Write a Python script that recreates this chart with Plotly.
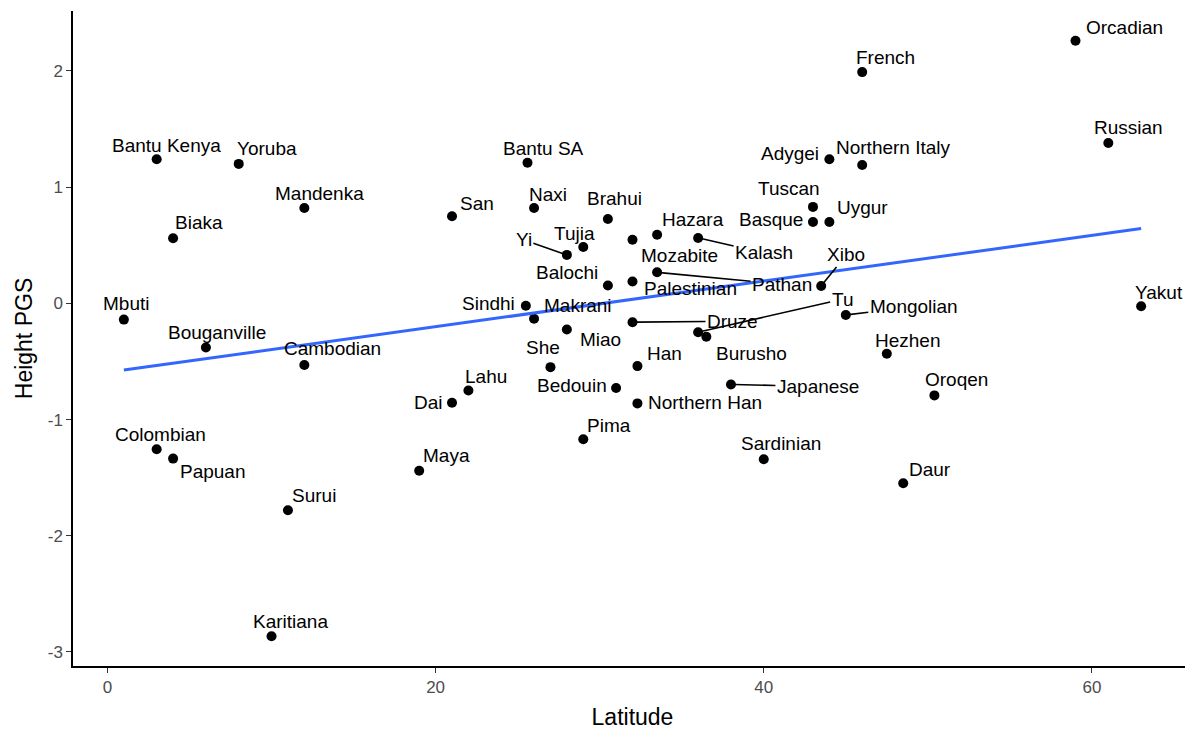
import numpy as np
import plotly.graph_objects as go

names = ["Orcadian", "French", "Russian", "Adygei", "Northern Italy", "Tuscan", "Basque", "Uygur",
         "Xibo", "Mongolian", "Yakut", "Bantu Kenya", "Yoruba", "Mandenka", "Biaka", "San", "Mbuti",
         "Bouganville", "Cambodian", "Lahu", "Dai", "Colombian", "Papuan", "Maya", "Surui", "Karitiana",
         "Bantu SA", "Naxi", "Brahui", "Tujia", "Yi", "Mozabite", "Hazara", "Kalash", "Pathan", "Balochi",
         "Palestinian", "Sindhi", "Makrani", "Druze", "Tu", "Burusho", "Miao", "She", "Han", "Bedouin",
         "Northern Han", "Japanese", "Pima", "Sardinian", "Hezhen", "Oroqen", "Daur"]
latitude = [59, 46, 61, 44, 46, 43, 43, 44,
            43.5, 45, 63, 3, 8, 12, 4, 21, 1,
            6, 12, 22, 21, 3, 4, 19, 11, 10,
            25.6, 26, 30.5, 29, 28, 32, 33.5, 36, 33.5, 30.5,
            32, 25.5, 26, 32, 36, 36.5, 28, 27, 32.3, 31,
            32.3, 38, 29, 40, 47.5, 50.4, 48.5]
height_pgs = [2.26, 1.99, 1.38, 1.24, 1.19, 0.83, 0.70, 0.70,
              0.15, -0.10, -0.025, 1.24, 1.20, 0.82, 0.56, 0.75, -0.14,
              -0.38, -0.53, -0.75, -0.855, -1.256, -1.336, -1.44, -1.78, -2.865,
              1.21, 0.82, 0.726, 0.485, 0.417, 0.548, 0.59, 0.563, 0.267, 0.153,
              0.188, -0.02, -0.133, -0.162, -0.248, -0.288, -0.225, -0.549, -0.54, -0.729,
              -0.861, -0.698, -1.17, -1.342, -0.434, -0.792, -1.548]
x_ticks = [0, 20, 40, 60]
y_ticks = [-3, -2, -1, 0, 1, 2]
y_tick_text = ["-3", "-2", "-1", "0", "1", "2"]

# label placement (pixel offsets from point: dx right, dy down; segment flag)
label_pos = {
    "Orcadian": (49, -13, False), "French": (23, -15, False), "Russian": (20, -16, False),
    "Adygei": (-39, -6, False), "Northern Italy": (31, -18, False), "Tuscan": (-24, -18, False),
    "Basque": (-42, -3, False), "Uygur": (33, -15, False), "Xibo": (25, -31, True),
    "Mongolian": (68, -8, True), "Yakut": (18, -14, False), "Bantu Kenya": (10, -14, False),
    "Yoruba": (28, -15, False), "Mandenka": (15, -15, False), "Biaka": (26, -16, False),
    "San": (25, -13, False), "Mbuti": (2, -16, False), "Bouganville": (11, -15, False),
    "Cambodian": (28, -16, False), "Lahu": (18, -14, False), "Dai": (-24, 0, False),
    "Colombian": (4, -15, False), "Papuan": (40, 13, False), "Maya": (27, -15, False),
    "Surui": (26, -15, False), "Karitiana": (19, -15, False), "Bantu SA": (16, -14, False),
    "Naxi": (14, -14, False), "Brahui": (7, -20, False), "Tujia": (-9, -14, False),
    "Yi": (-43, -15, True), "Mozabite": (47, 16, False), "Hazara": (36, -15, False),
    "Kalash": (66, 15, True), "Pathan": (125, 12, True), "Balochi": (-41, -13, False),
    "Palestinian": (58, 7, False), "Sindhi": (-37, -2, False), "Makrani": (44, -13, False),
    "Druze": (100, -1, True), "Tu": (144, -33, True), "Burusho": (45, 17, False),
    "Miao": (34, 10, False), "She": (-7, -20, False), "Han": (27, -13, False),
    "Bedouin": (-44, -3, False), "Northern Han": (68, -1, False), "Japanese": (87, 2, True),
    "Pima": (26, -14, False), "Sardinian": (17, -16, False), "Hezhen": (21, -13, False),
    "Oroqen": (22, -16, False), "Daur": (27, -14, False),
}

FONT = "Liberation Sans, Arial, sans-serif"
LABEL_SIZE = 19
x = np.array(latitude, dtype=float)
y = np.array(height_pgs, dtype=float)
slope, intercept = np.polyfit(x, y, 1)
xl = np.array([x.min(), x.max()])
yl = intercept + slope * xl

fig = go.Figure()
fig.add_trace(go.Scatter(x=x, y=y, mode="markers",
                         marker=dict(color="black", size=10), hoverinfo="text", text=names,
                         showlegend=False))
fig.add_trace(go.Scatter(x=xl, y=yl, mode="lines", line=dict(color="#3366FF", width=3),
                         showlegend=False, hoverinfo="skip"))

annotations = []
for n, xx, yy in zip(names, latitude, height_pgs):
    dx, dy, seg = label_pos[n]
    if seg:
        annotations.append(dict(x=xx, y=yy, text=n, showarrow=True, ax=dx, ay=dy,
                                arrowhead=0, arrowwidth=1.6, arrowcolor="black", standoff=3,
                                font=dict(family=FONT, size=LABEL_SIZE, color="black")))
    else:
        annotations.append(dict(x=xx, y=yy, text=n, showarrow=False, xshift=dx, yshift=-dy,
                                font=dict(family=FONT, size=LABEL_SIZE, color="black")))

# page body has an 8px default margin, so the figure is sized to fit the window
fig.update_layout(
    width=1185, height=724,
    margin=dict(l=65, r=1, t=3, b=66),
    paper_bgcolor="white", plot_bgcolor="white",
    annotations=annotations,
    font=dict(family=FONT),
    xaxis=dict(range=[-2.1, 66.1], tickvals=x_ticks, ticks="outside", ticklen=5, tickwidth=1.2,
               tickcolor="#333333", showline=True, linecolor="black", linewidth=1.5,
               showgrid=False, zeroline=False,
               tickfont=dict(family=FONT, size=17, color="#4D4D4D"),
               title=dict(text="Latitude", font=dict(family=FONT, size=23, color="black"), standoff=13)),
    yaxis=dict(range=[-3.121, 2.516], tickvals=y_ticks, ticktext=y_tick_text, ticks="outside",
               ticklen=5, tickwidth=1.2,
               tickcolor="#333333", showline=True, linecolor="black", linewidth=1.5,
               showgrid=False, zeroline=False,
               tickfont=dict(family=FONT, size=17, color="#4D4D4D"),
               title=dict(text="Height PGS", font=dict(family=FONT, size=23, color="black"), standoff=9)),
)
fig.write_html("out.html")
